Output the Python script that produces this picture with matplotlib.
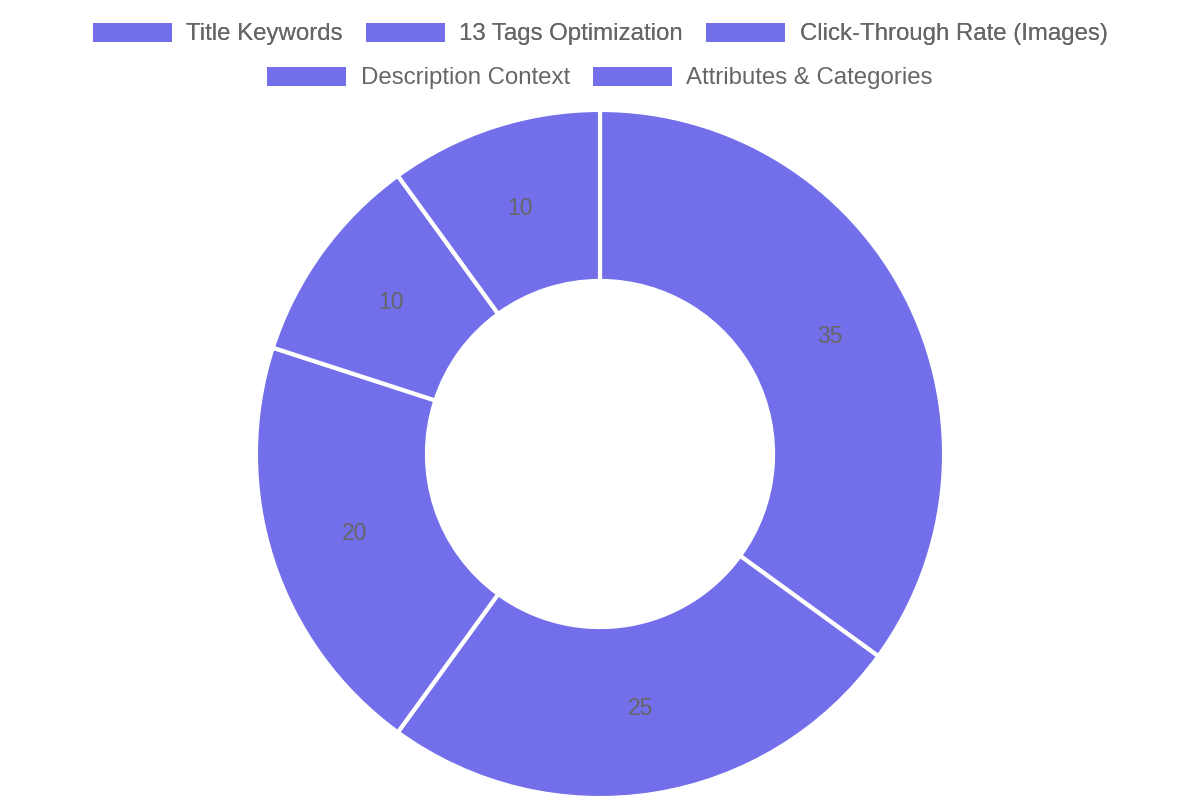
import matplotlib.pyplot as plt
from matplotlib.patches import Patch

plt.rcParams['font.family'] = ['Liberation Sans', 'DejaVu Sans']

categories = ["Title Keywords", "13 Tags Optimization", "Click-Through Rate (Images)",
              "Description Context", "Attributes & Categories"]
values = [35, 25, 20, 10, 10]
color = "#736EEA"
text_grey = "#666666"

fig = plt.figure(figsize=(12, 8), dpi=100)
ax = fig.add_axes([258 / 1200, 4 / 800, 684 / 1200, 684 / 800])

total = sum(values)
ax.pie(values, colors=[color] * len(values), startangle=90, counterclock=False,
       radius=1.006, wedgeprops=dict(width=0.5, edgecolor="white", linewidth=3),
       autopct=lambda p: f"{round(p * total / 100)}", pctdistance=0.75,
       textprops=dict(color=text_grey, fontsize=16.5))
ax.set_xlim(-1, 1)
ax.set_ylim(-1, 1)
ax.set_aspect("equal")
ax.axis("off")

handles = [Patch(facecolor=color, edgecolor="none", label=c) for c in categories]
leg_kw = dict(frameon=False, fontsize=17.3, handlelength=3.3, handleheight=0.85,
              handletextpad=0.6, columnspacing=0.95, labelcolor=text_grey)
leg1 = fig.legend(handles=handles[:3], ncol=3, loc="center", bbox_to_anchor=(0.5, 1 - 34 / 800), **leg_kw)
fig.add_artist(leg1)
fig.legend(handles=handles[3:], ncol=2, loc="center", bbox_to_anchor=(0.5, 1 - 78 / 800), **leg_kw)

fig.savefig("out.png", dpi=100)
